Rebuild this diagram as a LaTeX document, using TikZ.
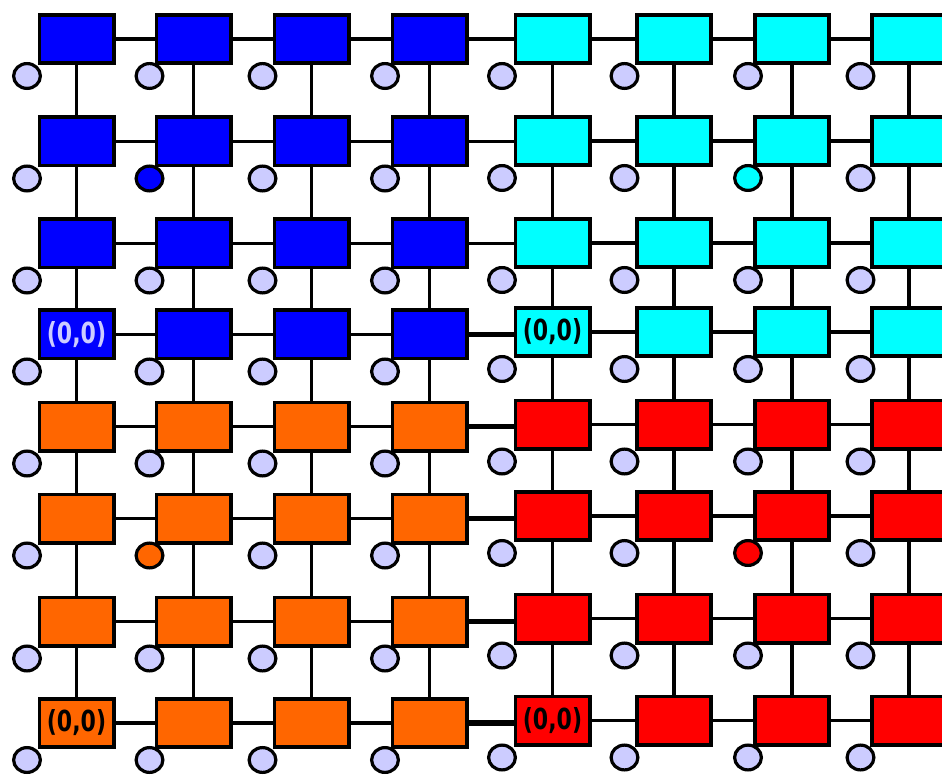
\documentclass[tikz,border=0pt]{standalone}
\usepackage{fontspec}
\usetikzlibrary{shapes.geometric}
\newfontfamily\originfont[FakeStretch=0.76]{DejaVu Sans}
\definecolor{memfill}{HTML}{CCCCFF}
\definecolor{peblue}{HTML}{0000FF}
\definecolor{pecyan}{HTML}{00FFFF}
\definecolor{peorange}{HTML}{FF6600}
\definecolor{pered}{HTML}{FF0000}
\tikzset{
  hot 2-2/.style={fill=peblue},
  hot 2-7/.style={fill=pecyan},
  hot 6-2/.style={fill=peorange},
  hot 6-7/.style={fill=pered},
  tint 4-1/.style={text=memfill}
}
\begin{document}
\begin{tikzpicture}[x=1pt,y=-1pt,
    pe/.style={draw,line width=3.6pt,minimum width=74.4pt,minimum height=48.4pt,inner sep=0pt,
      font=\originfont\bfseries\fontsize{29pt}{29pt}\selectfont},
    mem/.style={draw,ellipse,line width=3.2pt,fill=memfill,minimum width=26.8pt,minimum height=24.8pt,inner sep=0pt},
    link/.style={line width=3.3pt},
    biglink/.style={line width=5.8pt}]
  \useasboundingbox (0,0) rectangle (942,775);
  % processing elements, two blocks per row
  \foreach \r/\yl/\yr/\cl/\cr/\org in {1/39/39/peblue/pecyan/,2/141.5/141/peblue/pecyan/,
      3/243.5/243/peblue/pecyan/,4/334.5/332/peblue/pecyan/{(0,0)},5/426.5/424.5/peorange/pered/,
      6/518.5/516/peorange/pered/,7/621.5/618.5/peorange/pered/,8/723/720.5/peorange/pered/{(0,0)}} {
    \foreach \c/\x in {1/76.5,2/193.5,3/311.5,4/429.5}
      \node[pe,fill=\cl,tint \r-\c/.try] (pe-\r-\c) at (\x,\yl) {\ifnum\c=1 \org\fi};
    \foreach \c/\x in {5/552.5,6/674,7/792,8/909}
      \node[pe,fill=\cr] (pe-\r-\c) at (\x,\yr) {\ifnum\c=5 \org\fi};
  }
  % mesh links
  \foreach \r in {1,...,8} {
    \foreach \c [evaluate=\c as \n using int(\c+1)] in {1,2,3,5,6,7}
      \draw[link] (pe-\r-\c) -- (pe-\r-\n);
  }
  \foreach \r in {1,2,3}
    \draw[link] (pe-\r-4.east) -- (pe-\r-4.east -| pe-\r-5.west);
  \foreach \r in {4,...,8}
    \draw[biglink] (pe-\r-4.east) -- (pe-\r-4.east -| pe-\r-5.west);
  \foreach \c in {1,...,8} {
    \foreach \r [evaluate=\r as \n using int(\r+1)] in {1,...,7}
      \draw[link] (pe-\r-\c) -- (pe-\n-\c);
  }
  % memories at the lower left corners
  \foreach \r in {1,...,8} {
    \foreach \c/\mx in {1/27,2/149.5,3/262.5,4/385,5/502,6/624.5,7/748,8/860.5}
      \node[mem,hot \r-\c/.try] (mem-\r-\c) at (pe-\r-\c.south -| \mx,0) [yshift=-11pt] {};
  }
\end{tikzpicture}
\end{document}
